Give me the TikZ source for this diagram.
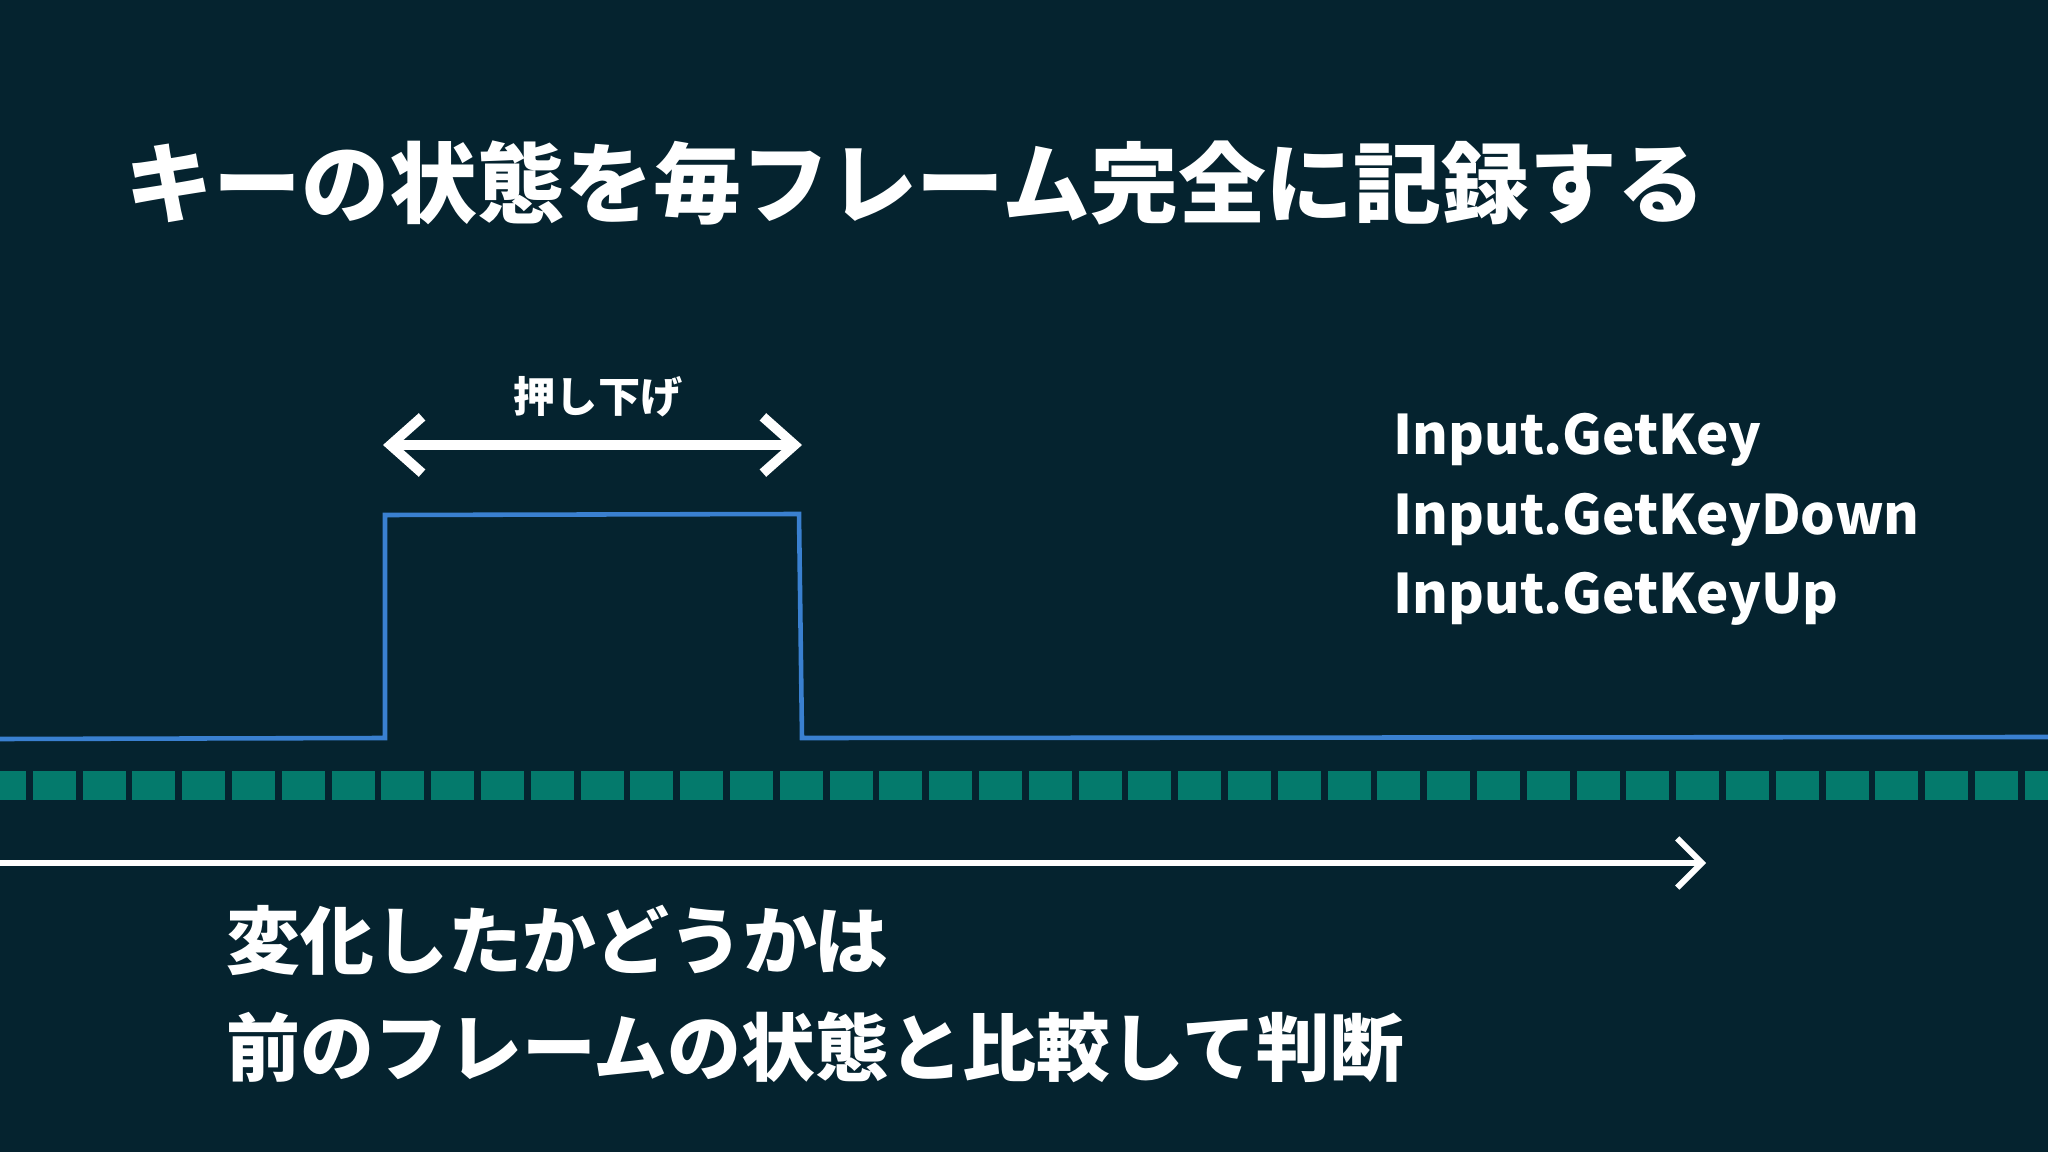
\documentclass[tikz,border=0pt]{standalone}
\usepackage{fontspec}
\newfontfamily\cjk{Noto Sans CJK JP}
\usetikzlibrary{arrows.meta}
\definecolor{bg}{HTML}{05232F}
\definecolor{teal}{HTML}{047A6C}
\definecolor{pulse}{HTML}{3A80D0}
\begin{document}
\begin{tikzpicture}[x=0.01cm,y=-0.01cm,
  txt/.style={text=white,inner sep=0pt,anchor=west,font=\cjk\bfseries},
  frame/.style={fill=teal,draw=none}]
\fill[bg] (0,0) rectangle (2048,1152);
\useasboundingbox (0,0) rectangle (2048,1152);
\node[txt,font=\cjk\bfseries\fontsize{25}{30}\selectfont] (title) at (125,183) {キーの状態を毎フレーム完全に記録する};
% pulse
\coordinate (p0) at (0,739);
\coordinate (p1) at (385,738);
\coordinate (p2) at (385,515);
\coordinate (p3) at (799,514);
\coordinate (p4) at (802,738);
\coordinate (p5) at (2048,737);
\draw[pulse,line width=1.3pt] (p0)--(p1)--(p2)--(p3)--(p4)--(p5);
% double arrow
\coordinate (a1) at (383,445);
\coordinate (a2) at (802,445);
\draw[white,line width=2.8pt,{Straight Barb[length=9pt,width=16pt]}-{Straight Barb[length=9pt,width=16pt]}] (a1)--(a2);
\node[txt,anchor=center,font=\cjk\bfseries\fontsize{12}{14}\selectfont] (lab) at (598,397) {押し下げ};
% frames
\foreach \i in {0,...,41} {
  \fill[teal] ({-17+49.8*\i},771) rectangle ({26+49.8*\i},800);
}
% time axis
\coordinate (t0) at (0,863);
\coordinate (t1) at (1706,863);
\draw[white,line width=1.7pt,-{Straight Barb[length=7pt,width=14pt]}] (t0)--(t1);
% code
\node[txt,font=\cjk\bfseries\fontsize{15.5}{18}\selectfont] (c1) at (1393,440) {Input.GetKey};
\node[txt,font=\cjk\bfseries\fontsize{15.5}{18}\selectfont] (c2) at (1393,520) {Input.GetKeyDown};
\node[txt,font=\cjk\bfseries\fontsize{15.5}{18}\selectfont] (c3) at (1393,599) {Input.GetKeyUp};
% bottom
\node[txt,font=\cjk\bfseries\fontsize{21}{26}\selectfont] (b1) at (226,940) {変化したかどうかは};
\node[txt,font=\cjk\bfseries\fontsize{21}{26}\selectfont] (b2) at (226,1047) {前のフレームの状態と比較して判断};
\end{tikzpicture}
\end{document}
